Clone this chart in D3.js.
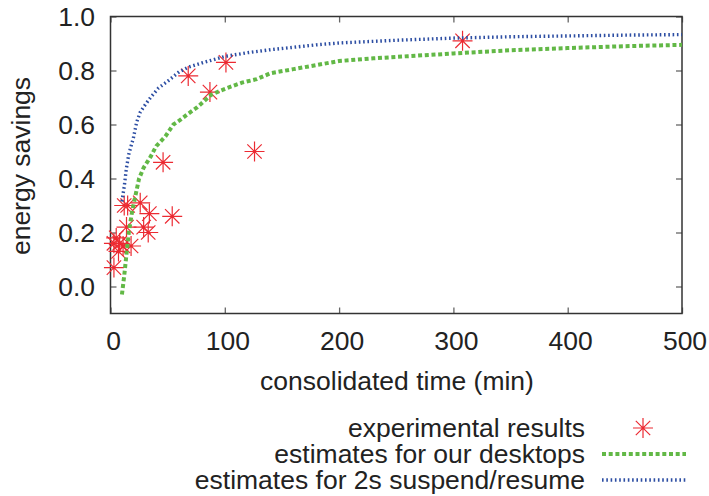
<!DOCTYPE html>
<html>
<head>
<meta charset="utf-8">
<script src="https://cdn.jsdelivr.net/npm/d3@7"></script>
<style>
  html, body { margin: 0; padding: 0; background: #fff; }
  svg { display: block; }
  text { font-family: "Liberation Sans", Arial, Helvetica, sans-serif; fill: #222; }
</style>
</head>
<body>
<svg id="chart" width="709" height="496"></svg>
<script>
// Measured runs: consolidated time (min) and the energy saved
const expTime    = [3, 3, 5, 7, 8, 11, 12, 15, 14, 18, 26, 29, 33, 34, 46, 54, 68, 87, 101, 126, 308];
const expSavings = [0.07, 0.16, 0.18, 0.13, 0.16, 0.15, 0.30, 0.30, 0.22, 0.15, 0.31, 0.22, 0.20, 0.27, 0.46, 0.26, 0.78, 0.72, 0.83, 0.50, 0.91];

// Model estimate for our desktops
const deskTime    = [10, 12, 14, 16, 19, 22, 25, 29, 35, 40, 48, 55, 61, 68, 76, 88, 96, 102, 115, 128, 140, 160, 180, 200, 230, 260, 300, 350, 400, 450, 500];
const deskSavings = [-0.03, 0.04, 0.12, 0.20, 0.28, 0.34, 0.40, 0.44, 0.48, 0.52, 0.556, 0.60, 0.617, 0.64, 0.664, 0.71, 0.725, 0.735, 0.755, 0.768, 0.79, 0.805, 0.82, 0.835, 0.845, 0.853, 0.863, 0.875, 0.883, 0.89, 0.895];

// Model estimate with a 2 s suspend/resume cycle
const fastTime    = [10, 12, 14, 16, 18, 20, 23, 26, 29, 35, 42, 50, 60, 68, 80, 100, 120, 140, 160, 180, 200, 250, 300, 350, 400, 450, 500];
const fastSavings = [0.315, 0.37, 0.44, 0.49, 0.52, 0.55, 0.61, 0.645, 0.665, 0.70, 0.735, 0.76, 0.795, 0.812, 0.828, 0.852, 0.866, 0.877, 0.886, 0.895, 0.902, 0.912, 0.92, 0.925, 0.928, 0.931, 0.933];

const xTicks = [0, 100, 200, 300, 400, 500];
const yTicks = [0.0, 0.2, 0.4, 0.6, 0.8, 1.0];

const legendLabels = ["experimental results", "estimates for our desktops", "estimates for 2s suspend/resume"];

const RED = "#ec2a32", GREEN = "#62b846", BLUE = "#2d4ea3";
const FONT = 25;
const STRETCH = 1.06;

const svg = d3.select("#chart");
const plotL = 110.5, plotR = 682, plotT = 16.5, plotB = 313.5;

const x = d3.scaleLinear().domain([0, 500]).range([plotL, plotR]);
const y = d3.scaleLinear().domain([-0.1, 1.0]).range([plotB, plotT]);

// text helper with slight horizontal widening
function label(g, tx, ty, str, anchor, rotate) {
  return g.append("text")
    .attr("transform", `translate(${tx},${ty})` + (rotate ? ` rotate(${rotate})` : "") + ` scale(${STRETCH},1)`)
    .attr("text-anchor", anchor)
    .attr("font-size", FONT)
    .text(str);
}

// axes with inward ticks on all four sides
const tickLen = 6;
const axB = d3.axisBottom(x).tickValues(xTicks).tickSize(-tickLen).tickFormat("");
const axT = d3.axisTop(x).tickValues(xTicks).tickSize(-tickLen).tickFormat("");
const axL = d3.axisLeft(y).tickValues(yTicks).tickSize(-tickLen).tickFormat("");
const axR = d3.axisRight(y).tickValues(yTicks).tickSize(-tickLen).tickFormat("");

function styleAxis(g) {
  g.select(".domain").remove();
  g.selectAll(".tick line").attr("stroke", "#666").attr("stroke-width", 1.3);
}
svg.append("g").attr("transform", `translate(0,${plotB})`).call(axB).call(styleAxis);
svg.append("g").attr("transform", `translate(0,${plotT})`).call(axT).call(styleAxis);
svg.append("g").attr("transform", `translate(${plotL},0)`).call(axL).call(styleAxis);
svg.append("g").attr("transform", `translate(${plotR},0)`).call(axR).call(styleAxis);

// frame
svg.append("rect")
  .attr("x", plotL).attr("y", plotT)
  .attr("width", plotR - plotL).attr("height", plotB - plotT)
  .attr("fill", "none").attr("stroke", "#333").attr("stroke-width", 1.5);

// tick labels
const labels = svg.append("g");
xTicks.forEach(v => label(labels, x(v) + 3, 350, String(v), "middle"));
yTicks.forEach(v => label(labels, 95, y(v) + 9, v.toFixed(1), "end"));

// axis titles
label(labels, 397, 390, "consolidated time (min)", "middle");
label(labels, 30, 166, "energy savings", "middle", -90);

// star marker: plus and cross overlaid
function star(g, cx, cy, r) {
  const d = r * 0.72;
  g.append("path")
    .attr("d", `M${cx - r},${cy}H${cx + r}M${cx},${cy - r}V${cy + r}` +
               `M${cx - d},${cy - d}L${cx + d},${cy + d}M${cx - d},${cy + d}L${cx + d},${cy - d}`)
    .attr("stroke", RED).attr("stroke-width", 1.2).attr("fill", "none");
}

const pts = svg.append("g");
expTime.forEach((t, i) => star(pts, x(t), y(expSavings[i]), 10));

// estimate curves
const GREEN_DASH = "4 2.7", BLUE_DASH = "1.6 2.7";
const line = d3.line().x(d => x(d[0])).y(d => y(d[1]));
svg.append("path")
  .datum(deskTime.map((t, i) => [t, deskSavings[i]]))
  .attr("d", line)
  .attr("fill", "none").attr("stroke", GREEN).attr("stroke-width", 4)
  .attr("stroke-dasharray", GREEN_DASH);
svg.append("path")
  .datum(fastTime.map((t, i) => [t, fastSavings[i]]))
  .attr("d", line)
  .attr("fill", "none").attr("stroke", BLUE).attr("stroke-width", 3.4)
  .attr("stroke-dasharray", BLUE_DASH);

// legend
const lg = svg.append("g");
const rows = [428, 454, 480];
legendLabels.forEach((s, i) => label(lg, 585, rows[i] + 9, s, "end"));
star(lg, 643, rows[0], 10);
lg.append("line").attr("x1", 602).attr("x2", 686).attr("y1", rows[1]).attr("y2", rows[1])
  .attr("stroke", GREEN).attr("stroke-width", 4).attr("stroke-dasharray", GREEN_DASH);
lg.append("line").attr("x1", 602).attr("x2", 686).attr("y1", rows[2]).attr("y2", rows[2])
  .attr("stroke", BLUE).attr("stroke-width", 3.4).attr("stroke-dasharray", BLUE_DASH);
</script>
</body>
</html>
